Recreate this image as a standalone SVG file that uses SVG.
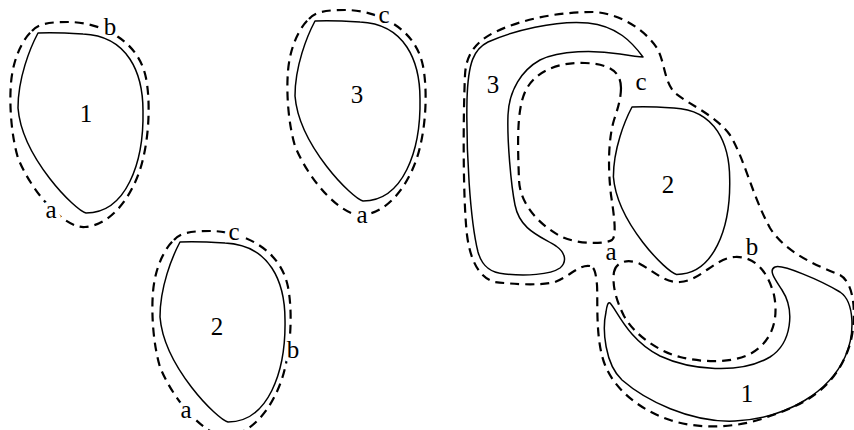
<svg xmlns="http://www.w3.org/2000/svg" xmlns:xlink="http://www.w3.org/1999/xlink" width="854" height="430" viewBox="0 0 854 430">
<style>
.solid{fill:none;stroke:#000;stroke-width:1.5;stroke-linejoin:round}
.dash{fill:none;stroke:#000;stroke-width:2.2;stroke-dasharray:9 6}
.lbl{font-family:"Liberation Serif","Times New Roman",serif;font-size:25px;text-anchor:middle;fill:#000}
.halo{font-family:"Liberation Serif","Times New Roman",serif;font-size:25px;text-anchor:middle;fill:#fff;stroke:#fff;stroke-width:9;stroke-linejoin:round}
</style>
<defs>
<path id="egg" d="M 0,0 C 15,-1 30,0 45,1 C 90,3 105,40 105,78 C 106,130 88,180 48,180 C 38,178 -16,125 -20,75 C -20,45 -8,15 0,0 Z"/>
<path id="eggDash" d="M -6,-2 C 0,-9 10,-11 30,-11 C 60,-11 100,5 108,45 C 112,65 112,100 104,130 C 96,160 75,192 47,194 C 28,196 -5,162 -20,125 C -26,105 -29,75 -27,50 C -25,25 -15,6 -6,-2 Z"/>
</defs>
<rect width="854" height="430" fill="#fff"/>

<g id="piece-1" transform="translate(38,33)">
<use xlink:href="#eggDash" href="#eggDash" class="dash"/>
</g>
<g id="piece-3" transform="translate(315,21)">
<use xlink:href="#eggDash" href="#eggDash" class="dash"/>
</g>
<g id="piece-2" transform="translate(180,242)">
<use xlink:href="#eggDash" href="#eggDash" class="dash"/>
</g>

<g id="glued-dashed">
<path class="dash" d="M 590,266 C 580,264 570,276 555,282 C 540,286 510,284 495,282 C 478,278 470,258 467,235 C 463,200 463,120 465,75 C 466,55 475,42 495,32 C 525,18 560,12 593,12 C 620,13 645,30 657,48 C 665,62 664,82 675,93 C 690,105 715,115 730,135 C 745,160 752,195 770,228 C 785,252 815,265 840,275 C 858,285 856,330 848,350 C 835,385 810,403 770,416 C 740,428 700,430 670,420 C 640,410 615,390 605,365 C 595,340 598,300 597,285 C 596,275 595,267 590,266 Z"/>
<path class="dash" d="M 621,88 C 621,72 610,64 585,63 C 560,62 535,70 525,92 C 516,112 518,150 519,180 C 520,205 540,225 560,236 C 578,245 605,244 612,240 C 617,236 614,215 611,195 C 608,170 608,140 614,120 C 618,108 621,98 621,88 Z"/>
<path class="dash" d="M 614,272 C 616,262 628,258 640,264 C 655,272 665,283 680,282 C 700,281 715,258 735,257 C 755,256 768,272 774,295 C 779,320 772,342 750,354 C 730,364 700,362 680,357 C 660,352 635,336 624,316 C 616,300 612,285 614,272 Z"/>
</g>

<g id="halos">
<text class="halo" x="110" y="35">b</text>
<text class="halo" x="51" y="218">a</text>
<text class="halo" x="384" y="23">c</text>
<text class="halo" x="362" y="223">a</text>
<text class="halo" x="234" y="240">c</text>
<text class="halo" x="293" y="358">b</text>
<text class="halo" x="186" y="418">a</text>
</g>

<g id="piece-1-solid" transform="translate(38,33)">
<use xlink:href="#egg" href="#egg" class="solid"/>
</g>
<g id="piece-3-solid" transform="translate(315,21)">
<use xlink:href="#egg" href="#egg" class="solid"/>
</g>
<g id="piece-2-solid" transform="translate(180,242)">
<use xlink:href="#egg" href="#egg" class="solid"/>
</g>

<g id="glued-solid">
<path class="solid" d="M 643,57 C 632,42 617,26 588,23 C 556,20 512,31 488,42 C 474,49 468,62 467,100 C 466,150 470,220 478,252 C 482,266 490,273 505,274 C 525,276 550,275 560,268 C 567,262 566,253 556,246 C 540,236 520,230 515,205 C 511,185 507,140 508,115 C 509,90 522,70 540,60 C 560,50 595,50 620,54 C 632,56 640,57 643,57 Z"/>
<path class="solid" d="M 632,107 C 646,106.1 659.9,107 673.9,107.9 C 715.7,109.8 729.7,144.2 729.7,179.5 C 730.6,227.9 713.8,274.4 676.6,274.4 C 667,272.5 617,223 613.4,176.8 C 613.4,148.9 624.6,121 632,107 Z"/>
<path class="solid" d="M 610,303 C 617,310 628,340 660,356 C 690,370 740,375 770,357 C 792,343 795,310 782,290 C 775,279 768,270 775,267 C 782,264 820,280 840,292 C 855,302 855,335 845,357 C 830,390 790,418 735,421 C 690,423 645,400 622,380 C 605,364 602,330 606,312 C 607,305 608,302 610,303 Z"/>
</g>

<g id="labels">
<text class="lbl" x="86" y="122">1</text>
<text class="lbl" x="110" y="35">b</text>
<text class="lbl" x="51" y="218">a</text>
<text class="lbl" x="357" y="103">3</text>
<text class="lbl" x="384" y="23">c</text>
<text class="lbl" x="362" y="223">a</text>
<text class="lbl" x="217" y="335">2</text>
<text class="lbl" x="234" y="240">c</text>
<text class="lbl" x="293" y="358">b</text>
<text class="lbl" x="186" y="418">a</text>
<text class="lbl" x="493" y="93">3</text>
<text class="lbl" x="641" y="90">c</text>
<text class="lbl" x="668" y="193">2</text>
<text class="lbl" x="611" y="260">a</text>
<text class="lbl" x="752" y="255">b</text>
<text class="lbl" x="747" y="402">1</text>
</g>
</svg>
